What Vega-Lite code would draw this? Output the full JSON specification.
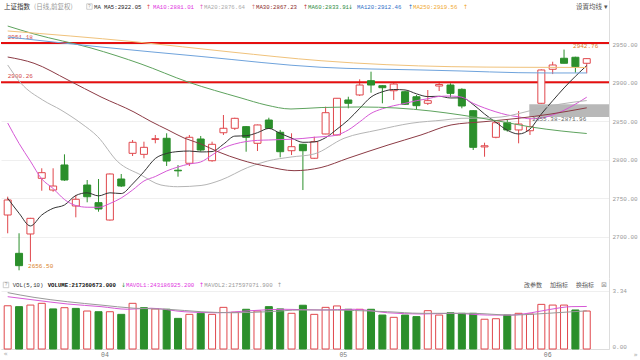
{
"$schema":"https://vega.github.io/schema/vega-lite/v6.json",
"padding":0,
"background":"#ffffff",
"spacing":0,
"resolve":{"scale":{"color":"independent"}},
"config":{"view":{"stroke":null},"text":{"font":"Liberation Mono","fontSize":5.7,"align":"left","baseline":"middle"}},
"datasets":{
"one":[{}],
"candles":[
{"i":0,"o":2728.2,"h":2752,"l":2704.5,"c":2747.7,"d":"u","v":2.47,"vd":"u"},
{"i":1,"o":2678.5,"h":2704.5,"l":2656.5,"c":2662.5,"d":"d","v":2.42,"vd":"d"},
{"i":2,"o":2703.6,"h":2724.5,"l":2667.6,"c":2723.9,"d":"u","v":2.51,"vd":"u"},
{"i":3,"o":2775.8,"h":2788.8,"l":2759.7,"c":2783.1,"d":"u","v":2.61,"vd":"u"},
{"i":4,"o":2760.6,"h":2788.8,"l":2758.4,"c":2765.8,"d":"u","v":2.29,"vd":"d"},
{"i":5,"o":2793.1,"h":2806.9,"l":2772.5,"c":2773.6,"d":"d","v":2.36,"vd":"u"},
{"i":6,"o":2739.9,"h":2754.2,"l":2725.2,"c":2748.6,"d":"u","v":2.32,"vd":"d"},
{"i":7,"o":2767.1,"h":2773.6,"l":2744.7,"c":2751.9,"d":"d","v":2.17,"vd":"u"},
{"i":8,"o":2744.2,"h":2774.9,"l":2732.5,"c":2736,"d":"d","v":2.13,"vd":"d"},
{"i":9,"o":2721.7,"h":2782,"l":2721,"c":2781.4,"d":"u","v":2.13,"vd":"u"},
{"i":10,"o":2774.9,"h":2781.4,"l":2764.5,"c":2765.8,"d":"d","v":1.98,"vd":"d"},
{"i":11,"o":2808.2,"h":2825.5,"l":2804.7,"c":2822.5,"d":"u","v":2.61,"vd":"u"},
{"i":12,"o":2806.9,"h":2823.3,"l":2801.8,"c":2816,"d":"u","v":2.36,"vd":"d"},
{"i":13,"o":2826.2,"h":2832,"l":2821.2,"c":2827.2,"d":"u","v":2.29,"vd":"u"},
{"i":14,"o":2827.7,"h":2834.2,"l":2791.8,"c":2798.2,"d":"d","v":2.27,"vd":"d"},
{"i":15,"o":2786.3,"h":2793,"l":2777.9,"c":2785.5,"d":"d","v":1.75,"vd":"d"},
{"i":16,"o":2795.3,"h":2832,"l":2791.8,"c":2829,"d":"u","v":1.98,"vd":"u"},
{"i":17,"o":2826.8,"h":2830.7,"l":2810.3,"c":2812.5,"d":"d","v":2.04,"vd":"d"},
{"i":18,"o":2798.6,"h":2823.3,"l":2797.3,"c":2819.9,"d":"u","v":1.98,"vd":"u"},
{"i":19,"o":2834.9,"h":2857.9,"l":2832,"c":2840.7,"d":"u","v":2.38,"vd":"u"},
{"i":20,"o":2840.7,"h":2854.4,"l":2838.5,"c":2853.6,"d":"u","v":2.10,"vd":"u"},
{"i":21,"o":2842.8,"h":2843.5,"l":2810.3,"c":2829,"d":"d","v":2.27,"vd":"d"},
{"i":22,"o":2821.2,"h":2845.5,"l":2811.2,"c":2845,"d":"u","v":2.17,"vd":"u"},
{"i":23,"o":2851.4,"h":2854.4,"l":2840,"c":2840.7,"d":"d","v":2.42,"vd":"d"},
{"i":24,"o":2835.5,"h":2838.5,"l":2803,"c":2810.3,"d":"d","v":2.29,"vd":"d"},
{"i":25,"o":2811.6,"h":2834.2,"l":2806,"c":2816.8,"d":"u","v":2.04,"vd":"u"},
{"i":26,"o":2819.9,"h":2820.5,"l":2760.6,"c":2811.6,"d":"d","v":2.50,"vd":"d"},
{"i":27,"o":2801.8,"h":2829.8,"l":2801,"c":2823.3,"d":"u","v":1.98,"vd":"u"},
{"i":28,"o":2833.3,"h":2868.7,"l":2833,"c":2860.9,"d":"u","v":2.38,"vd":"u"},
{"i":29,"o":2832,"h":2880,"l":2831.5,"c":2879.6,"d":"u","v":2.46,"vd":"u"},
{"i":30,"o":2877.4,"h":2881.6,"l":2866.6,"c":2873.1,"d":"d","v":2.27,"vd":"d"},
{"i":31,"o":2883.9,"h":2904.2,"l":2882.6,"c":2896.8,"d":"u","v":2.27,"vd":"u"},
{"i":32,"o":2902.4,"h":2914.1,"l":2886.8,"c":2896.8,"d":"d","v":2.27,"vd":"d"},
{"i":33,"o":2895.9,"h":2896.5,"l":2873.1,"c":2893.3,"d":"d","v":1.94,"vd":"d"},
{"i":34,"o":2889.4,"h":2899.8,"l":2877.4,"c":2898.1,"d":"u","v":1.81,"vd":"u"},
{"i":35,"o":2888.1,"h":2889.4,"l":2870.9,"c":2871.8,"d":"d","v":1.94,"vd":"d"},
{"i":36,"o":2881.6,"h":2883.9,"l":2865.3,"c":2870,"d":"d","v":1.85,"vd":"d"},
{"i":37,"o":2873.1,"h":2890.3,"l":2870.9,"c":2876.5,"d":"u","v":2.19,"vd":"u"},
{"i":38,"o":2895.5,"h":2901,"l":2889,"c":2897.5,"d":"u","v":1.94,"vd":"u"},
{"i":39,"o":2896.8,"h":2899,"l":2880.9,"c":2886,"d":"d","v":2.07,"vd":"d"},
{"i":40,"o":2891.2,"h":2892.5,"l":2866.6,"c":2869.6,"d":"d","v":2.04,"vd":"d"},
{"i":41,"o":2863.5,"h":2864,"l":2812.5,"c":2816,"d":"d","v":2.04,"vd":"d"},
{"i":42,"o":2816.5,"h":2822,"l":2803.8,"c":2818,"d":"u","v":1.70,"vd":"u"},
{"i":43,"o":2829,"h":2849.2,"l":2827.7,"c":2847.9,"d":"u","v":1.73,"vd":"u"},
{"i":44,"o":2847.9,"h":2851.4,"l":2836.3,"c":2838.5,"d":"d","v":1.94,"vd":"d"},
{"i":45,"o":2838.5,"h":2863.1,"l":2821.2,"c":2846.2,"d":"u","v":2.04,"vd":"u"},
{"i":46,"o":2837.5,"h":2853.6,"l":2832,"c":2842.8,"d":"u","v":2.00,"vd":"u"},
{"i":47,"o":2873.1,"h":2917,"l":2872.5,"c":2916.3,"d":"u","v":2.55,"vd":"u"},
{"i":48,"o":2917.2,"h":2927,"l":2911,"c":2922.8,"d":"u","v":2.51,"vd":"u"},
{"i":49,"o":2931.5,"h":2942.76,"l":2925,"c":2925,"d":"d","v":2.51,"vd":"u"},
{"i":50,"o":2932.8,"h":2933.5,"l":2912.8,"c":2920.6,"d":"d","v":2.23,"vd":"d"},
{"i":51,"o":2925,"h":2931.5,"l":2912,"c":2931,"d":"u","v":2.17,"vd":"u"}
],
"ma":[
{"s":"MA5","i":0,"v":2749.9},{"s":"MA5","i":1,"v":2730.5},{"s":"MA5","i":2,"v":2714.0},{"s":"MA5","i":3,"v":2728.2},{"s":"MA5","i":4,"v":2736.9},{"s":"MA5","i":5,"v":2741.2},{"s":"MA5","i":6,"v":2753.5},{"s":"MA5","i":7,"v":2757.0},{"s":"MA5","i":8,"v":2753.0},{"s":"MA5","i":9,"v":2757.0},{"s":"MA5","i":10,"v":2756.0},{"s":"MA5","i":11,"v":2768.5},{"s":"MA5","i":12,"v":2784.4},{"s":"MA5","i":13,"v":2801.5},{"s":"MA5","i":14,"v":2808.0},{"s":"MA5","i":15,"v":2810.5},{"s":"MA5","i":16,"v":2811.2},{"s":"MA5","i":17,"v":2810.0},{"s":"MA5","i":18,"v":2810.5},{"s":"MA5","i":19,"v":2820.0},{"s":"MA5","i":20,"v":2830.5},{"s":"MA5","i":21,"v":2831.0},{"s":"MA5","i":22,"v":2835.0},{"s":"MA5","i":23,"v":2840.5},{"s":"MA5","i":24,"v":2834.0},{"s":"MA5","i":25,"v":2828.0},{"s":"MA5","i":26,"v":2822.5},{"s":"MA5","i":27,"v":2823.0},{"s":"MA5","i":28,"v":2828.5},{"s":"MA5","i":29,"v":2839.5},{"s":"MA5","i":30,"v":2851.5},{"s":"MA5","i":31,"v":2866.5},{"s":"MA5","i":32,"v":2881.2},{"s":"MA5","i":33,"v":2888.0},{"s":"MA5","i":34,"v":2891.0},{"s":"MA5","i":35,"v":2890.4},{"s":"MA5","i":36,"v":2885.4},{"s":"MA5","i":37,"v":2881.8},{"s":"MA5","i":38,"v":2882.2},{"s":"MA5","i":39,"v":2880.0},{"s":"MA5","i":40,"v":2880.2},{"s":"MA5","i":41,"v":2871.5},{"s":"MA5","i":42,"v":2859.2},{"s":"MA5","i":43,"v":2848.4},{"s":"MA5","i":44,"v":2838.2},{"s":"MA5","i":45,"v":2833.3},{"s":"MA5","i":46,"v":2839.7},{"s":"MA5","i":47,"v":2859.2},{"s":"MA5","i":48,"v":2876.4},{"s":"MA5","i":49,"v":2893.0},{"s":"MA5","i":50,"v":2908.1},{"s":"MA5","i":51,"v":2922.05},
{"s":"MA10","i":0,"v":2847.5},{"s":"MA10","i":1,"v":2821},{"s":"MA10","i":2,"v":2798},{"s":"MA10","i":3,"v":2775},{"s":"MA10","i":4,"v":2762.6},{"s":"MA10","i":5,"v":2748.3},{"s":"MA10","i":6,"v":2740.5},{"s":"MA10","i":7,"v":2738.3},{"s":"MA10","i":8,"v":2738.2},{"s":"MA10","i":9,"v":2743.1},{"s":"MA10","i":10,"v":2750.3},{"s":"MA10","i":11,"v":2760.6},{"s":"MA10","i":12,"v":2772.3},{"s":"MA10","i":13,"v":2778.1},{"s":"MA10","i":14,"v":2785.3},{"s":"MA10","i":15,"v":2790.5},{"s":"MA10","i":16,"v":2794.4},{"s":"MA10","i":17,"v":2797},{"s":"MA10","i":18,"v":2806},{"s":"MA10","i":19,"v":2815.1},{"s":"MA10","i":20,"v":2820.3},{"s":"MA10","i":21,"v":2823.5},{"s":"MA10","i":22,"v":2825},{"s":"MA10","i":23,"v":2825.5},{"s":"MA10","i":24,"v":2826},{"s":"MA10","i":25,"v":2826.5},{"s":"MA10","i":26,"v":2827.5},{"s":"MA10","i":27,"v":2829},{"s":"MA10","i":28,"v":2830},{"s":"MA10","i":29,"v":2832},{"s":"MA10","i":30,"v":2838.5},{"s":"MA10","i":31,"v":2849},{"s":"MA10","i":32,"v":2860},{"s":"MA10","i":33,"v":2866},{"s":"MA10","i":34,"v":2870},{"s":"MA10","i":35,"v":2873},{"s":"MA10","i":36,"v":2876.5},{"s":"MA10","i":37,"v":2879},{"s":"MA10","i":38,"v":2882},{"s":"MA10","i":39,"v":2882.5},{"s":"MA10","i":40,"v":2881},{"s":"MA10","i":41,"v":2873},{"s":"MA10","i":42,"v":2867},{"s":"MA10","i":43,"v":2862},{"s":"MA10","i":44,"v":2858},{"s":"MA10","i":45,"v":2855.5},{"s":"MA10","i":46,"v":2853},{"s":"MA10","i":47,"v":2854},{"s":"MA10","i":48,"v":2858},{"s":"MA10","i":49,"v":2864},{"s":"MA10","i":50,"v":2872},{"s":"MA10","i":51,"v":2881.01},
{"s":"MA20","i":0,"v":2922.8},{"s":"MA20","i":1.17,"v":2899.1},{"s":"MA20","i":3.08,"v":2877.4},{"s":"MA20","i":4.69,"v":2864.4},{"s":"MA20","i":6.46,"v":2847.2},{"s":"MA20","i":7.93,"v":2829.8},{"s":"MA20","i":9.69,"v":2797.4},{"s":"MA20","i":11.74,"v":2780.1},{"s":"MA20","i":13.5,"v":2767.1},{"s":"MA20","i":14.97,"v":2764.9},{"s":"MA20","i":17.03,"v":2766.5},{"s":"MA20","i":18.79,"v":2773.6},{"s":"MA20","i":21.14,"v":2789.8},{"s":"MA20","i":22.9,"v":2798.3},{"s":"MA20","i":24.95,"v":2803.4},{"s":"MA20","i":26.98,"v":2807.3},{"s":"MA20","i":29.62,"v":2827.7},{"s":"MA20","i":32.62,"v":2838.5},{"s":"MA20","i":35.52,"v":2847.2},{"s":"MA20","i":38.43,"v":2851.4},{"s":"MA20","i":39.93,"v":2853.6},{"s":"MA20","i":41.69,"v":2854},{"s":"MA20","i":43.45,"v":2855.3},{"s":"MA20","i":45.21,"v":2860.5},{"s":"MA20","i":46.97,"v":2867},{"s":"MA20","i":48.74,"v":2872.2},{"s":"MA20","i":51,"v":2876.64},
{"s":"MA30","i":0,"v":2933.1},{"s":"MA30","i":2.32,"v":2925},{"s":"MA30","i":5.31,"v":2903.3},{"s":"MA30","i":8.22,"v":2881.3},{"s":"MA30","i":11.12,"v":2861.8},{"s":"MA30","i":12.62,"v":2849.5},{"s":"MA30","i":14.12,"v":2838.5},{"s":"MA30","i":15.53,"v":2828.1},{"s":"MA30","i":17.03,"v":2820.3},{"s":"MA30","i":18.52,"v":2810.3},{"s":"MA30","i":20.55,"v":2799.6},{"s":"MA30","i":22.93,"v":2790.9},{"s":"MA30","i":25.22,"v":2785.7},{"s":"MA30","i":27.6,"v":2789.8},{"s":"MA30","i":29.97,"v":2801.8},{"s":"MA30","i":33.5,"v":2819},{"s":"MA30","i":36.4,"v":2832},{"s":"MA30","i":39.05,"v":2845},{"s":"MA30","i":41.95,"v":2849.2},{"s":"MA30","i":44.95,"v":2853.6},{"s":"MA30","i":47.85,"v":2859.2},{"s":"MA30","i":51,"v":2867.23},
{"s":"MA60","i":0,"v":2973.3},{"s":"MA60","i":2.32,"v":2963},{"s":"MA60","i":7.34,"v":2944.8},{"s":"MA60","i":11.74,"v":2924.1},{"s":"MA60","i":15.88,"v":2900.7},{"s":"MA60","i":20.55,"v":2880},{"s":"MA60","i":22.75,"v":2870.9},{"s":"MA60","i":24.95,"v":2865.7},{"s":"MA60","i":27.6,"v":2867.6},{"s":"MA60","i":31.12,"v":2868.3},{"s":"MA60","i":34.2,"v":2867},{"s":"MA60","i":37.28,"v":2863.1},{"s":"MA60","i":39.93,"v":2857.9},{"s":"MA60","i":43.45,"v":2849.5},{"s":"MA60","i":46.1,"v":2842.3},{"s":"MA60","i":48.74,"v":2837.2},{"s":"MA60","i":51,"v":2833.91},
{"s":"MA120","i":0,"v":2959.1},{"s":"MA120","i":8.22,"v":2946.1},{"s":"MA120","i":17.03,"v":2933.8},{"s":"MA120","i":27.6,"v":2919.8},{"s":"MA120","i":36.4,"v":2916.3},{"s":"MA120","i":39.93,"v":2915},{"s":"MA120","i":44.95,"v":2912.8},{"s":"MA120","i":47.85,"v":2912.4},{"s":"MA120","i":51,"v":2912.46},
{"s":"MA250","i":0,"v":2966.9},{"s":"MA250","i":11.12,"v":2953},{"s":"MA250","i":19.67,"v":2939.6},{"s":"MA250","i":27.6,"v":2928.3},{"s":"MA250","i":39.05,"v":2920.6},{"s":"MA250","i":45.21,"v":2919.8},{"s":"MA250","i":51,"v":2919.56}
],
"vma":[
{"s":"MAVOL1","i":0,"v":2.99},{"s":"MAVOL1","i":2.32,"v":2.80},{"s":"MAVOL1","i":5.29,"v":2.57},{"s":"MAVOL1","i":8.22,"v":2.42},{"s":"MAVOL1","i":10.57,"v":2.27},{"s":"MAVOL1","i":12.62,"v":2.33},{"s":"MAVOL1","i":15.53,"v":2.13},{"s":"MAVOL1","i":18.5,"v":2.07},{"s":"MAVOL1","i":21.43,"v":2.19},{"s":"MAVOL1","i":24.34,"v":2.27},{"s":"MAVOL1","i":27.6,"v":2.23},{"s":"MAVOL1","i":30.5,"v":2.27},{"s":"MAVOL1","i":33.47,"v":2.07},{"s":"MAVOL1","i":36.4,"v":2.0},{"s":"MAVOL1","i":39.31,"v":2.04},{"s":"MAVOL1","i":42.28,"v":1.94},{"s":"MAVOL1","i":44.33,"v":1.94},{"s":"MAVOL1","i":46.1,"v":2.07},{"s":"MAVOL1","i":47.85,"v":2.27},{"s":"MAVOL1","i":49.62,"v":2.42},{"s":"MAVOL1","i":51,"v":2.43},
{"s":"MAVOL2","i":0,"v":3.22},{"s":"MAVOL2","i":2.32,"v":2.95},{"s":"MAVOL2","i":5.29,"v":2.70},{"s":"MAVOL2","i":8.22,"v":2.51},{"s":"MAVOL2","i":11.12,"v":2.33},{"s":"MAVOL2","i":14.09,"v":2.27},{"s":"MAVOL2","i":17.03,"v":2.13},{"s":"MAVOL2","i":19.93,"v":2.07},{"s":"MAVOL2","i":22.9,"v":2.13},{"s":"MAVOL2","i":25.83,"v":2.23},{"s":"MAVOL2","i":27.6,"v":2.23},{"s":"MAVOL2","i":33.47,"v":2.13},{"s":"MAVOL2","i":36.4,"v":2.04},{"s":"MAVOL2","i":40.81,"v":2.04},{"s":"MAVOL2","i":44.33,"v":1.94},{"s":"MAVOL2","i":47.56,"v":2.04},{"s":"MAVOL2","i":51,"v":2.18}
],
"levels":[{"p":2951.18},{"p":2900.26}],
"zone":[{"x1":45.94,"x2":52.96,"lo":2855.38,"hi":2871.96,"label":"2855.38-2871.96"}],
"ext":[{"i":1,"p":2656.5},{"i":49,"p":2942.76}]
},
"vconcat":[
{
"width":608,"height":278,
"layer":[
{"data":{"name":"candles"},"mark":{"type":"rule","strokeWidth":1},
 "encoding":{"x":{"field":"i","type":"quantitative","scale":{"domain":[-0.59,52.96],"nice":false,"zero":false,"padding":0},"axis":null},
 "y":{"field":"l","type":"quantitative","scale":{"domain":[2646.5,3007.07],"nice":false,"zero":false},
   "axis":{"orient":"right","values":[2700,2750,2800,2850,2900,2950],"format":".2f","grid":true,"gridColor":"#efefef","ticks":false,"domainColor":"#dddddd","labelColor":"#999999","labelFont":"Liberation Mono","labelFontSize":6,"labelPadding":3,"title":null}},
 "y2":{"field":"h"},
 "stroke":{"field":"d","type":"nominal","scale":{"domain":["u","d"],"range":["#e0474c","#2b8f2b"]},"legend":null}}},
{"data":{"name":"zone"},"mark":{"type":"rect","fill":"#888888","opacity":0.6},
 "encoding":{"x":{"field":"x1","type":"quantitative"},"x2":{"field":"x2"},
 "y":{"field":"lo","type":"quantitative"},"y2":{"field":"hi"}}},
{"data":{"name":"levels"},"mark":{"type":"rule","color":"#e50f0f","strokeWidth":2},
 "encoding":{"y":{"field":"p","type":"quantitative"}}},
{"data":{"name":"levels"},"mark":{"type":"text","dy":-6,"fontSize":6,"color":"#d44a4a"},
 "encoding":{"x":{"datum":0},"y":{"field":"p","type":"quantitative"},"text":{"field":"p","type":"quantitative","format":".2f"}}},
{"data":{"name":"candles"},"mark":{"type":"bar","width":7,"strokeWidth":1},
 "encoding":{"x":{"field":"i","type":"quantitative"},"y":{"field":"o","type":"quantitative"},"y2":{"field":"c"},
 "fill":{"field":"d","type":"nominal","scale":{"domain":["u","d"],"range":["#ffffff","#2b8f2b"]},"legend":null},
 "stroke":{"field":"d","type":"nominal","scale":{"domain":["u","d"],"range":["#e0474c","#2b8f2b"]},"legend":null}}},
{"data":{"name":"ma"},"mark":{"type":"line","strokeWidth":1,"interpolate":"monotone"},
 "encoding":{"x":{"field":"i","type":"quantitative"},"y":{"field":"v","type":"quantitative"},
 "color":{"field":"s","type":"nominal","scale":{"domain":["MA250","MA120","MA60","MA30","MA20","MA10","MA5"],"range":["#f0c27b","#6fa3dc","#5ea35e","#8c3b45","#b5b5b5","#d659d6","#333333"]},"legend":null}}},
{"data":{"name":"ext"},"mark":{"type":"text","dx":9,"dy":-4,"fontSize":6,"color":"#d9822b"},
 "encoding":{"x":{"field":"i","type":"quantitative"},"y":{"field":"p","type":"quantitative"},"text":{"field":"p","type":"quantitative","format":".2f"}}},
{"data":{"name":"zone"},"mark":{"type":"text","dx":3,"dy":2.5,"fontSize":6,"color":"#666666"},
 "encoding":{"x":{"field":"x1","type":"quantitative"},"y":{"field":"lo","type":"quantitative"},"text":{"field":"label"}}},
{"data":{"name":"one"},"mark":{"type":"text","font":"Noto Sans CJK SC","fontSize":6.5,"color":"#333333"},"encoding":{"x":{"datum":-0.33},"y":{"datum":2998.6},"text":{"value":"上证指数"}}},
{"data":{"name":"one"},"mark":{"type":"text","font":"Noto Sans CJK SC","fontSize":6.5,"color":"#999999"},"encoding":{"x":{"datum":2.32},"y":{"datum":2998.6},"text":{"value":"(日线,前复权)"}}},
{"data":{"name":"one"},"mark":{"type":"point","shape":"square","size":30,"filled":false,"color":"#aaaaaa","strokeWidth":0.8},"encoding":{"x":{"datum":7.2},"y":{"datum":2998.6}}},
{"data":{"name":"one"},"mark":{"type":"text","align":"center","fontSize":4.5,"color":"#888888"},"encoding":{"x":{"datum":7.2},"y":{"datum":2998.6},"text":{"value":"?"}}},
{"data":{"name":"one"},"mark":{"type":"text","color":"#333333"},"encoding":{"x":{"datum":7.6},"y":{"datum":2998.6},"text":{"value":"MA"}}},
{"data":{"name":"one"},"mark":{"type":"text","color":"#222222"},"encoding":{"x":{"datum":8.48},"y":{"datum":2998.6},"text":{"value":"MA5:2922.05"}}},
{"data":{"name":"one"},"mark":{"type":"text","font":"DejaVu Sans","fontSize":6,"color":"#e05050"},"encoding":{"x":{"datum":12.18},"y":{"datum":2998.6},"text":{"value":"↑"}}},
{"data":{"name":"one"},"mark":{"type":"text","color":"#e035e0"},"encoding":{"x":{"datum":12.8},"y":{"datum":2998.6},"text":{"value":"MA10:2881.01"}}},
{"data":{"name":"one"},"mark":{"type":"text","font":"DejaVu Sans","fontSize":6,"color":"#e060c0"},"encoding":{"x":{"datum":16.85},"y":{"datum":2998.6},"text":{"value":"↑"}}},
{"data":{"name":"one"},"mark":{"type":"text","color":"#aaaaaa"},"encoding":{"x":{"datum":17.29},"y":{"datum":2998.6},"text":{"value":"MA20:2876.64"}}},
{"data":{"name":"one"},"mark":{"type":"text","font":"DejaVu Sans","fontSize":6,"color":"#d08080"},"encoding":{"x":{"datum":21.43},"y":{"datum":2998.6},"text":{"value":"↑"}}},
{"data":{"name":"one"},"mark":{"type":"text","color":"#8b2a2a"},"encoding":{"x":{"datum":21.87},"y":{"datum":2998.6},"text":{"value":"MA30:2867.23"}}},
{"data":{"name":"one"},"mark":{"type":"text","font":"DejaVu Sans","fontSize":6,"color":"#c04040"},"encoding":{"x":{"datum":26.01},"y":{"datum":2998.6},"text":{"value":"↑"}}},
{"data":{"name":"one"},"mark":{"type":"text","color":"#2e8b3e"},"encoding":{"x":{"datum":26.45},"y":{"datum":2998.6},"text":{"value":"MA60:2833.91"}}},
{"data":{"name":"one"},"mark":{"type":"text","font":"DejaVu Sans","fontSize":6,"color":"#2e8b3e"},"encoding":{"x":{"datum":29.97},"y":{"datum":2998.6},"text":{"value":"↓"}}},
{"data":{"name":"one"},"mark":{"type":"text","color":"#2f6fc8"},"encoding":{"x":{"datum":30.77},"y":{"datum":2998.6},"text":{"value":"MA120:2912.46"}}},
{"data":{"name":"one"},"mark":{"type":"text","font":"DejaVu Sans","fontSize":6,"color":"#2f6fc8"},"encoding":{"x":{"datum":35.26},"y":{"datum":2998.6},"text":{"value":"↑"}}},
{"data":{"name":"one"},"mark":{"type":"text","color":"#f0a830"},"encoding":{"x":{"datum":35.7},"y":{"datum":2998.6},"text":{"value":"MA250:2919.56"}}},
{"data":{"name":"one"},"mark":{"type":"text","font":"DejaVu Sans","fontSize":6,"color":"#f0a830"},"encoding":{"x":{"datum":40.1},"y":{"datum":2998.6},"text":{"value":"↑"}}},
{"data":{"name":"one"},"mark":{"type":"text","font":"Noto Sans CJK SC","fontSize":6.5,"color":"#555555"},"encoding":{"x":{"datum":50.06},"y":{"datum":2998.6},"text":{"value":"设置均线 ▾"}}}
]
},
{
"width":608,"height":71,
"layer":[
{"data":{"name":"candles"},"mark":{"type":"bar","width":7,"strokeWidth":1},
 "encoding":{"x":{"field":"i","type":"quantitative","scale":{"domain":[-0.59,52.96],"nice":false,"zero":false,"padding":0},
   "axis":{"orient":"bottom","values":[8,29,47],"labelExpr":"datum.value == 8 ? '04' : datum.value == 29 ? '05' : '06'","labelAlign":"left","labelBaseline":"top","labelPadding":2,"labelOffset":2,"labelOverlap":false,"ticks":false,"grid":false,"domainColor":"#dddddd","labelColor":"#777777","labelFont":"Liberation Mono","labelFontSize":6.5,"title":null}},
 "y":{"field":"v","type":"quantitative","scale":{"domain":[0,4.057],"nice":false,"zero":true},
   "axis":{"orient":"right","values":[0,1.12,2.21,3.34],"format":".2f","labelFlush":true,"grid":true,"gridColor":"#efefef","ticks":false,"domainColor":"#dddddd","labelColor":"#999999","labelFont":"Liberation Mono","labelFontSize":6,"labelPadding":3,"title":null}},
 "fill":{"field":"vd","type":"nominal","scale":{"domain":["u","d"],"range":["#ffffff","#2b8f2b"]},"legend":null},
 "stroke":{"field":"vd","type":"nominal","scale":{"domain":["u","d"],"range":["#e0474c","#2b8f2b"]},"legend":null}}},
{"data":{"name":"vma"},"mark":{"type":"line","strokeWidth":1,"interpolate":"monotone"},
 "encoding":{"x":{"field":"i","type":"quantitative"},"y":{"field":"v","type":"quantitative"},
 "color":{"field":"s","type":"nominal","scale":{"domain":["MAVOL2","MAVOL1"],"range":["#999999","#d659d6"]},"legend":null}}},
{"data":{"name":"one"},"mark":{"type":"point","shape":"square","size":30,"filled":false,"color":"#aaaaaa","strokeWidth":0.8},"encoding":{"x":{"datum":-0.15},"y":{"datum":3.66}}},
{"data":{"name":"one"},"mark":{"type":"text","align":"center","fontSize":4.5,"color":"#888888"},"encoding":{"x":{"datum":-0.15},"y":{"datum":3.66},"text":{"value":"?"}}},
{"data":{"name":"one"},"mark":{"type":"text","color":"#333333"},"encoding":{"x":{"datum":0.44},"y":{"datum":3.66},"text":{"value":"VOL(5,10)"}}},
{"data":{"name":"one"},"mark":{"type":"text","color":"#111111","fontWeight":"bold"},"encoding":{"x":{"datum":3.52},"y":{"datum":3.66},"text":{"value":"VOLUME:217360673.000"}}},
{"data":{"name":"one"},"mark":{"type":"text","font":"DejaVu Sans","fontSize":6,"color":"#2e8b3e"},"encoding":{"x":{"datum":9.98},"y":{"datum":3.66},"text":{"value":"↓"}}},
{"data":{"name":"one"},"mark":{"type":"text","color":"#e035e0"},"encoding":{"x":{"datum":10.42},"y":{"datum":3.66},"text":{"value":"MAVOL1:243186925.200"}}},
{"data":{"name":"one"},"mark":{"type":"text","font":"DejaVu Sans","fontSize":6,"color":"#e035e0"},"encoding":{"x":{"datum":16.85},"y":{"datum":3.66},"text":{"value":"↑"}}},
{"data":{"name":"one"},"mark":{"type":"text","color":"#999999"},"encoding":{"x":{"datum":17.32},"y":{"datum":3.66},"text":{"value":"MAVOL2:217597071.900"}}},
{"data":{"name":"one"},"mark":{"type":"text","font":"DejaVu Sans","fontSize":6,"color":"#999999"},"encoding":{"x":{"datum":23.72},"y":{"datum":3.66},"text":{"value":"↑"}}},
{"data":{"name":"one"},"mark":{"type":"text","font":"Noto Sans CJK SC","fontSize":6,"color":"#555555"},"encoding":{"x":{"datum":45.48},"y":{"datum":3.66},"text":{"value":"改参数"}}},
{"data":{"name":"one"},"mark":{"type":"text","font":"Noto Sans CJK SC","fontSize":6,"color":"#555555"},"encoding":{"x":{"datum":47.77},"y":{"datum":3.66},"text":{"value":"加指标"}}},
{"data":{"name":"one"},"mark":{"type":"text","font":"Noto Sans CJK SC","fontSize":6,"color":"#555555"},"encoding":{"x":{"datum":50.06},"y":{"datum":3.66},"text":{"value":"换指标"}}},
{"data":{"name":"one"},"mark":{"type":"text","align":"center","font":"DejaVu Sans","fontSize":7,"color":"#999999"},"encoding":{"x":{"datum":52.52},"y":{"datum":3.66},"text":{"value":"⊠"}}},
{"data":{"name":"one"},"mark":{"type":"text","align":"center","font":"DejaVu Sans","fontSize":7,"color":"#aaaaaa"},"encoding":{"x":{"datum":-0.19},"y":{"datum":-0.29},"text":{"value":"«"}}},
{"data":{"name":"one"},"mark":{"type":"text","align":"center","font":"DejaVu Sans","fontSize":7,"color":"#aaaaaa"},"encoding":{"x":{"datum":55.3},"y":{"datum":-0.34},"text":{"value":"»"}}}
]
}
]
}
